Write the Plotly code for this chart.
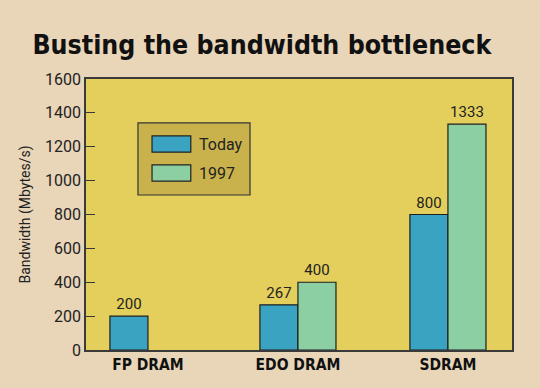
import plotly.graph_objects as go

categories = ["FP DRAM", "EDO DRAM", "SDRAM"]
series_names = ["Today", "1997"]
today = [200, 267, 800]
y1997 = [None, 400, 1333]
y_ticks = [0, 200, 400, 600, 800, 1000, 1200, 1400, 1600]

BLUE = "#3aa3c2"
GREEN = "#8ccfa2"
PLOT_BG = "#e4cf5c"
PAPER_BG = "#e9d6b9"
DARK = "#222222"

fig = go.Figure()
for name, vals, col in [(series_names[0], today, BLUE), (series_names[1], y1997, GREEN)]:
    fig.add_trace(go.Bar(
        x=categories, y=vals, name=name,
        marker=dict(color=col, line=dict(color="#1e1e1e", width=1.2)),
        text=[("" if v is None else str(v)) for v in vals],
        textposition="outside", cliponaxis=False,
        textfont=dict(family="Roboto, sans-serif", size=15, color=DARK),
        showlegend=False,
    ))

fig.update_layout(
    width=540, height=388,
    margin=dict(l=86, r=28, t=79, b=38),
    paper_bgcolor=PAPER_BG, plot_bgcolor=PLOT_BG,
    barmode="group", bargap=0.493, bargroupgap=0,
    title=dict(text="<b>Busting the bandwidth bottleneck</b>",
               font=dict(family="DejaVu Sans Condensed, Liberation Sans Narrow, sans-serif", size=26.5, color="#111"),
               x=0.485, xanchor="center", y=0.885, yanchor="middle"),
    font=dict(family="Roboto, sans-serif", color=DARK),
)
fig.update_xaxes(
    automargin=False,
    range=[-0.413, 2.427], showline=True, linecolor="#3a3a3a", linewidth=1.5, mirror=True,
    ticks="", tickfont=dict(family="DejaVu Sans Condensed, sans-serif", size=15.5, color="#111"),
    tickprefix="<b>", ticksuffix="</b>",
)
fig.update_yaxes(
    automargin=False,
    range=[0, 1600], tickvals=y_ticks, showgrid=False, zeroline=False,
    showline=True, linecolor="#3a3a3a", linewidth=1.5, mirror=True,
    ticks="inside", ticklen=9, tickcolor="#3a3a3a", tickwidth=1.2,
    tickfont=dict(family="Roboto, sans-serif", size=16, color=DARK),
    title=dict(text="Bandwidth (Mbytes/s)", font=dict(family="Roboto, sans-serif", size=14, color=DARK), standoff=11),
)

# manual legend box
fig.add_shape(type="rect", xref="paper", yref="paper", x0=0.122, x1=0.385, y0=0.572, y1=0.838,
              fillcolor="#c9b24c", line=dict(color="#333", width=1.2), layer="above")
for i, (name, col) in enumerate(zip(series_names, [BLUE, GREEN])):
    yc = [0.760, 0.653][i]
    fig.add_shape(type="rect", xref="paper", yref="paper", x0=0.155, x1=0.246, y0=yc - 0.03, y1=yc + 0.03,
                  fillcolor=col, line=dict(color="#222", width=1.2), layer="above")
    fig.add_annotation(x=0.260, y=yc, xref="paper", yref="paper", text=name, showarrow=False,
                       xanchor="left", yanchor="middle", font=dict(family="Roboto, sans-serif", size=16, color=DARK))

fig.write_html("out.html", config={"displayModeBar": False},
               post_script="document.body.style.margin='0';document.body.style.background='" + PAPER_BG + "';")
